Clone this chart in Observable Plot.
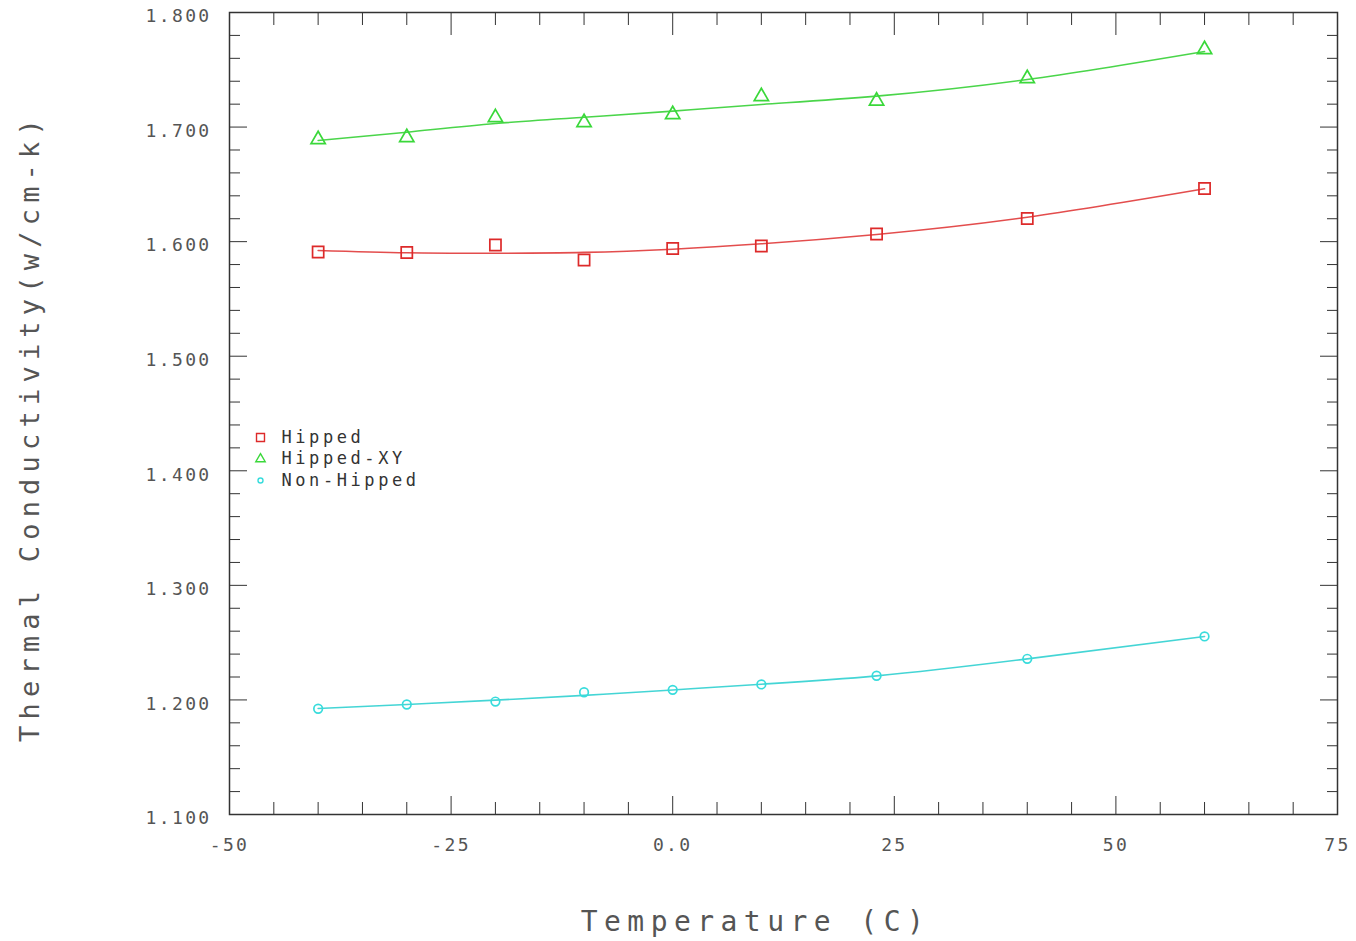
<!DOCTYPE html>
<html>
<head>
<meta charset="utf-8">
<script src="https://cdn.jsdelivr.net/npm/d3@7"></script>
<script src="https://cdn.jsdelivr.net/npm/@observablehq/plot@0.6"></script>
<style>
  html, body { margin: 0; padding: 0; background: #fff; }
  #chart svg { display: block; font-family: "DejaVu Sans Mono", monospace; }
  #chart svg text { letter-spacing: 0.13em; }
</style>
</head>
<body>
<div id="chart"></div>
<script>
// ---- data ----
const temps = [-40, -30, -20, -10, 0, 10, 23, 40, 60];
const seriesNames = ["Hipped", "Hipped-XY", "Non-Hipped"];
const hipped    = [1.5910, 1.5905, 1.5971, 1.5840, 1.5940, 1.5962, 1.6067, 1.6202, 1.6464];
const hippedXY  = [1.6892, 1.6909, 1.7083, 1.7040, 1.7110, 1.7267, 1.7228, 1.7424, 1.7677];
const nonHipped = [1.1923, 1.1960, 1.1986, 1.2067, 1.2088, 1.2135, 1.2211, 1.2359, 1.2554];
// fitted curves (at the same temperatures)
const hippedFit    = [1.5923, 1.5903, 1.5899, 1.5906, 1.5934, 1.5981, 1.6063, 1.6213, 1.6461];
const hippedXYFit  = [1.6883, 1.6955, 1.7031, 1.7086, 1.7139, 1.7197, 1.7270, 1.7415, 1.7660];
const nonHippedFit = [1.1925, 1.1960, 1.1998, 1.2040, 1.2087, 1.2137, 1.2210, 1.2358, 1.2554];
const xLabelTicks = [-50, -25, 0, 25, 50, 75];
const xMinorTicks = [-45,-40,-35,-30,-20,-15,-10,-5,5,10,15,20,30,35,40,45,55,60,65,70];
const yLabelTicks = [1.1, 1.2, 1.3, 1.4, 1.5, 1.6, 1.7, 1.8];
const yMinorTicks = d3.range(1.12, 1.8, 0.02).filter(v => Math.abs(v*10 - Math.round(v*10)) > 1e-6);
const xTitle = "Temperature (C)";
const yTitle = "Thermal Conductivity(w/cm-k)";

// ---- styles ----
const colors = ["#dd2a2a", "#3ad83a", "#38dcdc"];
const lineColors = ["#e03a3a", "#36d036", "#30d0d0"];
const symbols = ["square", "triangle", "circle"];
const radii = [6.3, 5.3, 4.3];

const values = [hipped, hippedXY, nonHipped];
const fits = [hippedFit, hippedXYFit, nonHippedFit];

const pts = seriesNames.map((s, k) => temps.map((t, i) => ({series: s, t, v: values[k][i]})));
const fitRows = seriesNames.map((s, k) => temps.map((t, i) => ({series: s, t, v: fits[k][i]})));

const axisColor = "#333";
const labelColor = "#555";

const marks = [];
// fitted lines
seriesNames.forEach((s, k) => {
  marks.push(Plot.line(fitRows[k], {x: "t", y: "v", curve: "natural", stroke: lineColors[k], strokeWidth: 1.6, strokeOpacity: 0.9}));
});
// points
seriesNames.forEach((s, k) => {
  marks.push(Plot.dot(pts[k], {x: "t", y: "v", symbol: symbols[k], r: radii[k], stroke: colors[k], strokeWidth: 1.7, fill: "none"}));
});
// frame
marks.push(Plot.frame({stroke: axisColor, strokeWidth: 1.5}));
// inward ticks on all four sides
const none = () => "";
marks.push(Plot.axisX({anchor: "bottom", ticks: xMinorTicks, tickSize: -12, tickFormat: none, label: null, stroke: axisColor}));
marks.push(Plot.axisX({anchor: "bottom", ticks: xLabelTicks, tickSize: -18, tickFormat: none, label: null, stroke: axisColor}));
marks.push(Plot.axisX({anchor: "top", ticks: xMinorTicks, tickSize: -12, tickFormat: none, label: null, stroke: axisColor}));
marks.push(Plot.axisX({anchor: "top", ticks: xLabelTicks, tickSize: -22, tickFormat: none, label: null, stroke: axisColor}));
marks.push(Plot.axisY({anchor: "left", ticks: yMinorTicks, tickSize: -11, tickFormat: none, label: null, stroke: axisColor}));
marks.push(Plot.axisY({anchor: "left", ticks: yLabelTicks, tickSize: -18, tickFormat: none, label: null, stroke: axisColor}));
marks.push(Plot.axisY({anchor: "right", ticks: yMinorTicks, tickSize: -11, tickFormat: none, label: null, stroke: axisColor}));
marks.push(Plot.axisY({anchor: "right", ticks: yLabelTicks, tickSize: -18, tickFormat: none, label: null, stroke: axisColor}));
// tick labels
marks.push(Plot.axisX({anchor: "bottom", ticks: xLabelTicks, tickSize: 0, tickPadding: 24,
  tickFormat: d => d === 0 ? "0.0" : String(d), label: null, fontSize: 18, color: labelColor}));
marks.push(Plot.axisY({anchor: "left", ticks: yLabelTicks, tickSize: 0, tickPadding: 18, dy: 4,
  tickFormat: d3.format(".3f"), label: null, fontSize: 18, color: labelColor}));
// titles
marks.push(Plot.text([xTitle], {frameAnchor: "bottom", dx: -28, dy: 108, text: d => d, fontSize: 28, fill: labelColor, textAnchor: "middle", lineAnchor: "middle"}));
marks.push(Plot.text([yTitle], {frameAnchor: "left", rotate: -90, dx: -199, dy: 14, text: d => d, fontSize: 27, fill: labelColor, textAnchor: "middle", lineAnchor: "middle"}));
// legend
seriesNames.forEach((s, k) => {
  const dy = 425 + k * 21.5;
  marks.push(Plot.dot([s], {frameAnchor: "top-left", dx: 31, dy, symbol: symbols[k], r: radii[k] - 1.8, stroke: colors[k], strokeWidth: 1.4, fill: "none"}));
  marks.push(Plot.text([s], {frameAnchor: "top-left", dx: 52, dy, text: d => d, textAnchor: "start", lineAnchor: "middle", fontSize: 17, fill: "#333"}));
});

const chart = Plot.plot({
  width: 1356,
  height: 941,
  marginLeft: 229,
  marginRight: 19,
  marginTop: 12,
  marginBottom: 127,
  x: {domain: [-50, 75]},
  y: {domain: [1.1, 1.8]},
  style: {background: "#fff", fontFamily: "DejaVu Sans Mono, monospace"},
  marks
});
document.getElementById("chart").appendChild(chart);
d3.select(chart).selectAll("text")
  .filter(function() { return this.textContent === xTitle || this.textContent === yTitle; })
  .style("letter-spacing", "0.23em");
d3.select(chart).selectAll("text")
  .filter(function() { return seriesNames.includes(this.textContent); })
  .style("letter-spacing", "0.21em");
</script>
</body>
</html>
